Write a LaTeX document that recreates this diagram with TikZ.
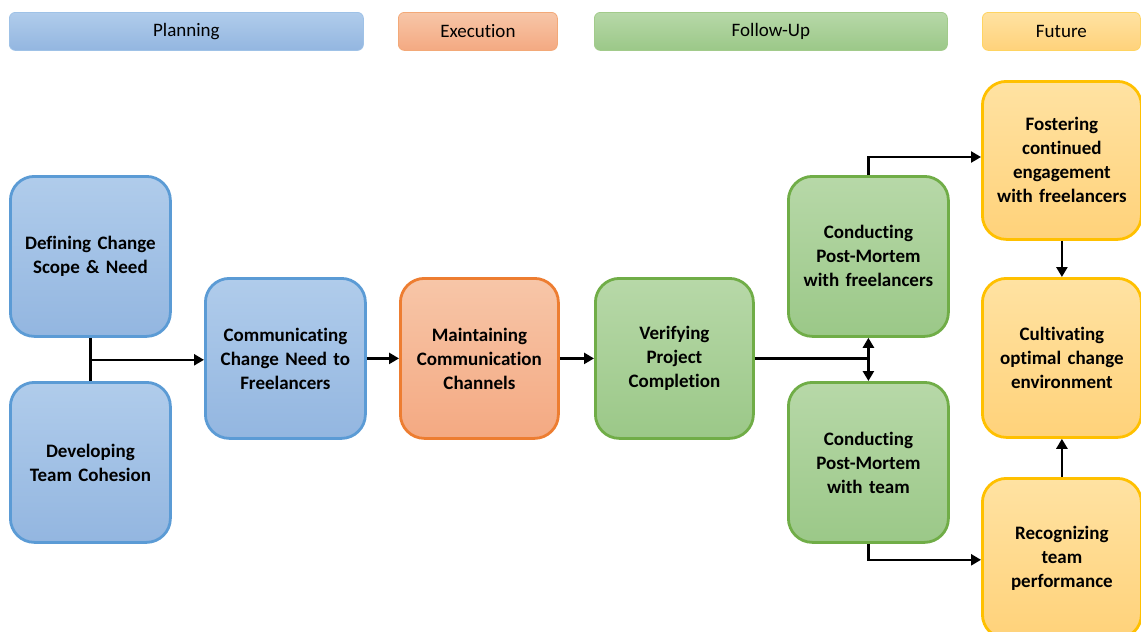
\documentclass[tikz,border=0pt]{standalone}
\usepackage{fontspec}
\setmainfont{Carlito}[Ligatures={NoCommon}]
\usetikzlibrary{arrows.meta}
\definecolor{bluetop}{HTML}{B0CCEB}
\definecolor{bluebot}{HTML}{93B6E0}
\definecolor{blueline}{HTML}{5B9BD5}
\definecolor{orgtop}{HTML}{F7C6A8}
\definecolor{orgbot}{HTML}{F4A982}
\definecolor{orgline}{HTML}{ED7D31}
\definecolor{grntop}{HTML}{B7D8A8}
\definecolor{grnbot}{HTML}{9BC888}
\definecolor{grnline}{HTML}{70AD47}
\definecolor{yeltop}{HTML}{FFE2A2}
\definecolor{yelbot}{HTML}{FFD27A}
\definecolor{yelline}{HTML}{FFC000}
\tikzset{
  box/.style={rounded corners=24pt, line width=2.8pt, minimum width=158pt, minimum height=158pt,
    align=center, font=\fontsize{19}{24}\selectfont\bfseries, inner sep=0pt, text width=156pt, anchor=north west},
  hdr/.style={rounded corners=6pt, line width=0.8pt, minimum height=38pt, inner sep=0pt,
    font=\fontsize{19}{22}\selectfont, anchor=north west},
  bluebox/.style={top color=bluetop, bottom color=bluebot, draw=blueline},
  orgbox/.style={top color=orgtop, bottom color=orgbot, draw=orgline},
  grnbox/.style={top color=grntop, bottom color=grnbot, draw=grnline},
  yelbox/.style={top color=yeltop, bottom color=yelbot, draw=yelline},
  conn/.style={line width=2.6pt, -{Triangle[length=10pt,width=11pt]}},
  plain/.style={line width=2.6pt},
}
\begin{document}
\begin{tikzpicture}[x=1pt,y=-1pt]
\useasboundingbox (0,0) rectangle (1141,632);
\clip (0,0) rectangle (1141,632);
% headers
\node[hdr, top color=bluetop, bottom color=bluebot, draw=bluetop!80!blueline, minimum width=354pt] (hplan) at (9,12) {Planning};
\node[hdr, top color=orgtop, bottom color=orgbot, draw=orgtop!60!orgline, minimum width=159pt] (hexec) at (398,12) {Execution};
\node[hdr, top color=grntop, bottom color=grnbot, draw=grntop!70!grnline, minimum width=353pt] (hfol) at (594,12) {Follow-Up};
\node[hdr, top color=yeltop, bottom color=yelbot, draw=yeltop!60!yelline, minimum width=158pt] (hfut) at (982,12) {Future};
% boxes
\node[box, bluebox, minimum width=160pt, minimum height=160pt] (def) at (9,175) {Defining Change\\Scope \& Need};
\node[box, bluebox, minimum width=160pt, minimum height=160pt] (dev) at (9,381) {Developing\\Team Cohesion};
\node[box, bluebox, minimum width=160pt, minimum height=160pt] (com) at (204,277) {Communicating\\Change Need to\\Freelancers};
\node[box, orgbox, minimum width=158pt, minimum height=160pt] (mai) at (399,277) {Maintaining\\Communication\\Channels};
\node[box, grnbox, minimum width=158pt, minimum height=160pt] (ver) at (594,277) {Verifying\\Project\\Completion};
\node[box, grnbox, minimum width=160pt, minimum height=160pt] (cpf) at (787,175) {Conducting\\Post-Mortem\\with freelancers};
\node[box, grnbox, minimum width=160pt, minimum height=160pt] (cpt) at (787,381) {Conducting\\Post-Mortem\\with team};
\node[box, yelbox, minimum width=159pt, minimum height=158pt] (fos) at (981,80) {Fostering\\continued\\engagement\\with freelancers};
\node[box, yelbox, minimum width=159pt, minimum height=159pt] (cul) at (981,277) {Cultivating\\optimal change\\environment};
\node[box, yelbox, minimum width=159pt, minimum height=160pt] (rec) at (981,477) {Recognizing\\team\\performance};
% connectors
\coordinate (j1) at ([yshift=-22pt]def.south);
\draw[plain] (def.south) -- (dev.north);
\draw[conn] (j1) -- (com.west |- j1);
\draw[conn] (com.east) -- (mai.west);
\draw[conn] (mai.east) -- (ver.west);
\coordinate (j2) at (cpf.south |- ver.east);
\draw[plain] (ver.east) -- (j2);
\draw[conn] (j2) -- (cpf.south);
\draw[conn] (j2) -- (cpt.north);
\coordinate (j3) at ([yshift=18pt]cpf.north);
\draw[conn] (cpf.north) -- (j3) -- (fos.west |- j3);
\coordinate (j4) at ([yshift=-16pt]cpt.south);
\draw[conn] (cpt.south) -- (j4) -- (rec.west |- j4);
\draw[conn] (fos.south) -- (cul.north);
\draw[conn] (rec.north) -- (cul.south);
\end{tikzpicture}
\end{document}
